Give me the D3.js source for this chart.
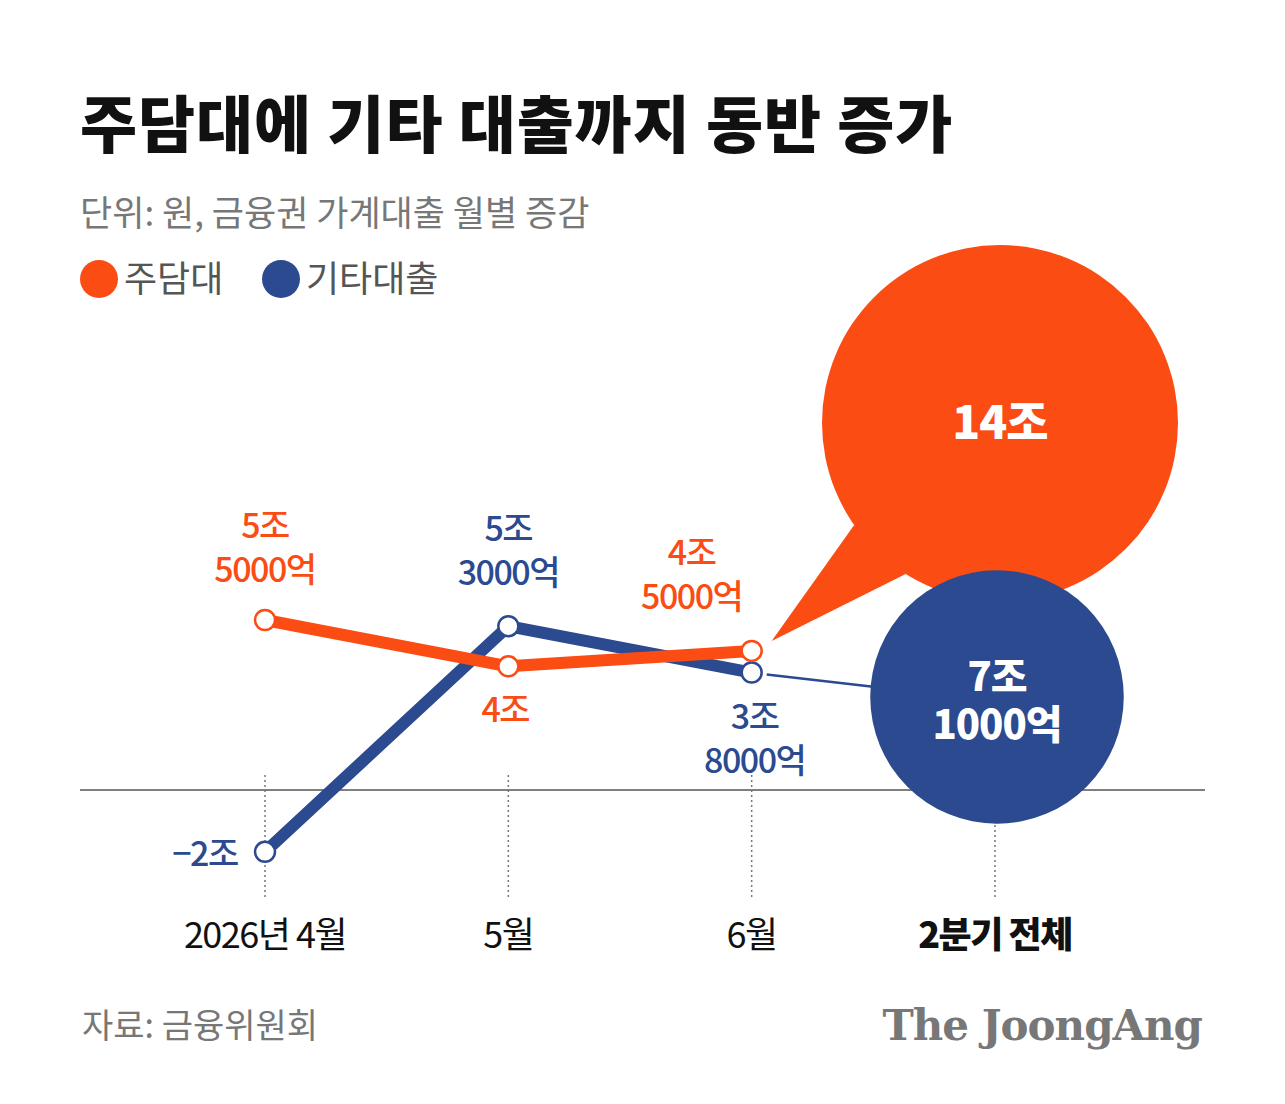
<!DOCTYPE html>
<html><head><meta charset="utf-8">
<script src="https://cdn.jsdelivr.net/npm/d3@7"></script>
<style>body{margin:0;background:#fff}text{font-family:"Noto Sans CJK KR","Noto Sans",sans-serif}</style>
</head><body><svg id="chart" width="1285" height="1104"></svg>
<script>
const months = ['2026년 4월', '5월', '6월', '2분기 전체'];
const series = [
	{ name: '주담대', color: '#fb4c14', values: [5.5, 4, 4.5], labels: [['5조', '5000억'], ['4조'], ['4조', '5000억']], total: 14, totalLabel: ['14조'] },
	{ name: '기타대출', color: '#2b4a8f', values: [-2, 5.3, 3.8], labels: [['−2조'], ['5조', '3000억'], ['3조', '8000억']], total: 7.1, totalLabel: ['7조', '1000억'] }
];
const svg = d3.select('#chart');
const x = d3.scalePoint().domain(months).range([265, 995]);
const y = d3.scaleLinear().domain([0, 5.5]).range([790, 620]);
const r = d3.scaleSqrt().domain([0, 14]).range([0, 178]);

svg.append('text').attr('x', 80).attr('y', 148).attr('font-size', 62).attr('font-weight', 900).attr('fill', '#111').attr('letter-spacing', 1).text('주담대에 기타 대출까지 동반 증가');
svg.append('text').attr('x', 80).attr('y', 226).attr('font-size', 35).attr('fill', '#777').text('단위: 원, 금융권 가계대출 월별 증감');
series.forEach((s, i) => {
	const g = svg.append('g').attr('transform', `translate(${i ? 262 : 80},0)`);
	g.append('circle').attr('cx', 19).attr('cy', 279).attr('r', 19).attr('fill', s.color);
	g.append('text').attr('x', 44).attr('y', 292).attr('font-size', 36).attr('fill', '#555').text(s.name);
});

svg.append('line').attr('x1', 80).attr('x2', 1205).attr('y1', y(0)).attr('y2', y(0)).attr('stroke', '#555').attr('stroke-width', 1.5);
months.forEach(m => svg.append('line').attr('x1', x(m)).attr('x2', x(m)).attr('y1', 775).attr('y2', 900)
	.attr('stroke', '#777').attr('stroke-width', 1.5).attr('stroke-dasharray', '2,3'));

const orange = series[0], blue = series[1];
const cO = [x(months[3]) + 5, 423], cB = [x(months[3]) + 2, 697];
const ro = r(orange.total);
const onO = a => [cO[0] + ro * Math.cos(a * Math.PI / 180), cO[1] + ro * Math.sin(a * Math.PI / 180)];

svg.append('line').attr('x1', x(months[2]) + 15).attr('y1', y(blue.values[2]) + 2).attr('x2', cB[0] - r(blue.total) + 5).attr('y2', cB[1] - 10)
	.attr('stroke', blue.color).attr('stroke-width', 2.5);
const p1 = onO(145), p2 = onO(122);
svg.append('path').attr('d', `M${x(months[2]) + 20},${y(orange.values[2]) - 10} L${p1[0]},${p1[1]} L${p2[0]},${p2[1]} Z`).attr('fill', orange.color);
svg.append('circle').attr('cx', cO[0]).attr('cy', cO[1]).attr('r', ro).attr('fill', orange.color);
svg.append('circle').attr('cx', cB[0]).attr('cy', cB[1]).attr('r', r(blue.total)).attr('fill', blue.color);
[[orange, cO, 0], [blue, cB, -22]].forEach(([s, c, dy]) => {
	const t = svg.append('text').attr('text-anchor', 'middle').attr('fill', '#fff').attr('font-size', s === orange ? 46 : 40).attr('font-weight', 900).attr('letter-spacing', -1);
	s.totalLabel.forEach((l, i) => t.append('tspan').attr('x', c[0]).attr('y', c[1] + 16 + dy + i * 48).text(l));
});

const line = d3.line().x((d, i) => x(months[i])).y(d => y(d));
[blue, orange].forEach(s => {
	svg.append('path').attr('d', line(s.values)).attr('fill', 'none').attr('stroke', s.color).attr('stroke-width', 12).attr('stroke-linejoin', 'round');
});
[blue, orange].forEach(s => {
	svg.selectAll(null).data(s.values).enter().append('circle')
		.attr('cx', (d, i) => x(months[i])).attr('cy', d => y(d)).attr('r', 10)
		.attr('fill', '#fff').attr('stroke', s.color).attr('stroke-width', 2.5);
});

const pos = {
	'주담대': [[0, -82], [-3, 56], [-60, -86]],
	'기타대출': [[-60, 14], [0, -85], [3, 56]]
};
series.forEach(s => s.values.forEach((v, i) => {
	const [dx, dy] = pos[s.name][i];
	const t = svg.append('text').attr('text-anchor', 'middle').attr('fill', s.color).attr('font-size', 34).attr('font-weight', 500).attr('letter-spacing', -1.5);
	s.labels[i].forEach((l, k) => t.append('tspan').attr('x', x(months[i]) + dx).attr('y', y(v) + dy + k * 44).text(l));
}));

months.forEach((m, i) => svg.append('text').attr('x', x(m)).attr('y', 948).attr('text-anchor', 'middle')
	.attr('font-size', 36).attr('font-weight', i === 3 ? 900 : 400).attr('fill', '#111').attr('letter-spacing', -1.5).text(m));

svg.append('text').attr('x', 82).attr('y', 1038).attr('font-size', 34).attr('fill', '#777').text('자료: 금융위원회');
svg.append('text').attr('x', 1202).attr('y', 1040).attr('text-anchor', 'end').attr('font-size', 42).attr('font-weight', 700)
	.attr('fill', '#777').style('font-family', '"DejaVu Serif","Liberation Serif",serif').attr('letter-spacing', -1).text('The JoongAng');
</script></body></html>
